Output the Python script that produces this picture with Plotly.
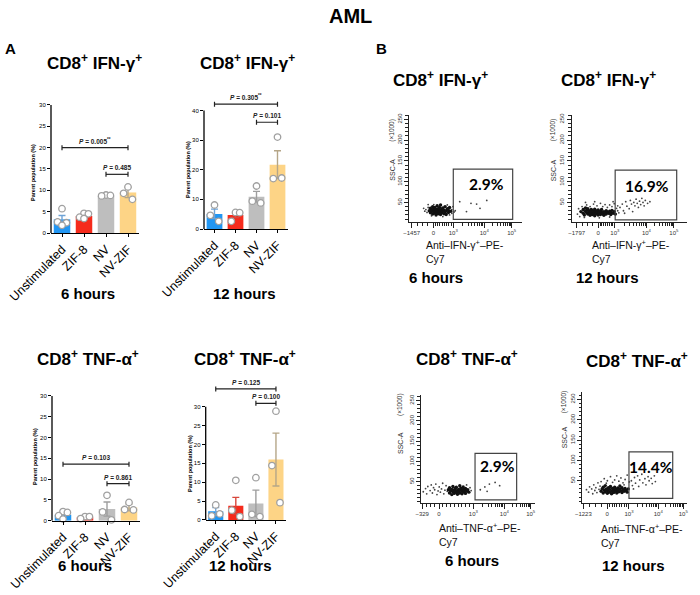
import numpy as np
import plotly.graph_objects as go

W, H = 700, 595
FONT = "Arial, Liberation Sans, sans-serif"

GROUPS = ["Unstimulated", "ZIF-8", "NV", "NV-ZIF"]
BAR_COLORS = ["#2196F3", "#F52B1C", "#BEBEBE", "#FDD486"]
ERR_COLORS = ["#6FA3D6", "#D8473C", "#9E9E9E", "#B5A688"]

# panel A: parent population (%), mean / sem / replicates
ifn_6h_mean = [3.2, 4.0, 8.7, 9.5]
ifn_6h_sem = [0.9, 0.3, 0.15, 1.2]
ifn_6h_pts = [[5.7, 2.6, 2.4, 1.8], [4.6, 3.7, 4.5, 3.4], [8.9, 8.7, 8.8], [10.8, 9.3, 7.9]]
ifn_6h_p = ["0.005<sup>**</sup>", "0.485"]

ifn_12h_mean = [5.1, 4.7, 10.9, 21.7]
ifn_12h_sem = [1.6, 0.8, 1.8, 4.7]
ifn_12h_pts = [[8.1, 4.6, 2.6], [5.6, 2.6, 5.5], [14.5, 9.4, 8.8], [31.0, 17.0, 17.2]]
ifn_12h_p = ["0.305<sup>**</sup>", "0.101"]

tnf_6h_mean = [1.45, 0.8, 2.8, 3.2]
tnf_6h_sem = [0.45, 0.15, 1.7, 0.8]
tnf_6h_pts = [[2.2, 1.2, 2.0, 0.4], [1.0, 0.5, 1.0], [6.1, 2.1, 0.2], [4.4, 2.7, 2.6]]
tnf_6h_p = ["0.103", "0.861"]

tnf_12h_mean = [2.3, 3.8, 4.4, 16.0]
tnf_12h_sem = [1.0, 2.2, 3.5, 7.0]
tnf_12h_pts = [[4.0, 1.1, 1.6], [10.5, 2.6, 0.9], [11.2, 1.5, 0.9], [28.8, 14.4, 4.6]]
tnf_12h_p = ["0.125", "0.100"]

# panel B: flow events (x = display position along biex axis, % of axis; y = SSC-A x1000)
# dense core of each population, then the scattered events
ifn6_core = [(18, 30), (19, 25), (19, 36), (20, 28), (20, 33), (21, 22), (21, 31), (21, 40), (22, 27), (22, 35),
             (23, 24), (23, 30), (23, 38), (24, 20), (24, 28), (24, 33), (25, 26), (25, 31), (25, 42), (26, 23),
             (26, 29), (26, 35), (27, 27), (27, 32), (27, 38), (28, 21), (28, 30), (28, 44), (29, 25), (29, 34),
             (30, 29), (30, 37), (31, 23), (31, 32), (32, 27), (32, 40), (33, 30), (33, 21), (34, 35), (35, 26),
             (35, 31), (36, 38), (37, 29)]
ifn6_sparse = [(17, 38), (16, 26), (15, 33), (38, 33), (36, 20), (34, 44), (22, 45), (20, 18), (30, 16), (39, 40),
               (14, 29), (38, 24), (17, 45), (13, 36), (40, 27),
               (45, 52), (55, 48), (60, 46), (69, 55), (51, 28), (41, 30), (63, 36)]
ifn12_core = [(8, 28), (10, 24), (10, 33), (11, 20), (12, 29), (12, 37), (13, 25), (13, 31), (14, 22), (14, 35),
              (15, 27), (15, 30), (16, 19), (16, 24), (17, 28), (17, 33), (18, 21), (18, 26), (18, 31), (19, 23),
              (19, 29), (20, 18), (20, 27), (20, 34), (21, 22), (21, 30), (22, 25), (22, 28), (23, 20), (23, 32),
              (24, 24), (24, 27), (25, 29), (25, 21), (26, 26), (26, 33), (27, 23), (28, 28), (28, 19), (29, 25),
              (30, 30), (30, 22), (31, 27), (32, 24), (33, 29), (34, 21), (34, 26), (35, 31), (36, 24), (37, 28),
              (38, 22)]
ifn12_sparse = [(6, 35), (9, 40), (13, 44), (16, 40), (19, 46), (22, 42), (25, 48), (27, 40), (29, 45), (31, 38),
                (33, 44), (35, 40), (37, 47), (39, 36), (40, 42), (5, 22), (7, 16), (11, 14), (24, 13), (33, 15),
                (40, 30), (41, 25), (12, 50), (20, 52), (36, 52),
                (42, 38), (44, 46), (45, 30), (47, 52), (48, 41), (50, 35), (51, 55), (52, 46), (54, 50), (55, 42),
                (56, 58), (57, 48), (58, 38), (59, 53), (60, 45), (61, 60), (62, 50), (63, 42), (64, 55), (66, 48),
                (46, 24), (53, 28), (68, 52)]
tnf6_core = [(24, 30), (25, 22), (25, 35), (26, 27), (27, 31), (27, 18), (28, 25), (28, 38), (29, 29), (29, 21),
             (30, 33), (30, 26), (31, 23), (31, 36), (32, 28), (32, 19), (33, 31), (33, 25), (34, 40), (34, 22),
             (35, 29), (35, 34), (36, 26), (36, 20), (37, 31), (37, 37), (38, 24), (38, 28), (39, 33), (39, 21),
             (40, 27), (41, 30), (42, 24)]
tnf6_sparse = [(2, 25), (4, 33), (5, 20), (6, 38), (8, 28), (9, 42), (10, 22), (11, 35), (12, 30), (13, 44),
               (14, 18), (15, 27), (16, 37), (17, 24), (18, 32), (19, 46), (20, 20), (21, 29), (22, 40), (23, 26),
               (40, 42), (43, 35), (44, 28),
               (52, 30), (56, 37), (60, 44), (65, 48), (58, 26), (69, 40)]
tnf12_core = [(18, 24), (19, 30), (20, 20), (20, 34), (21, 27), (22, 23), (22, 38), (23, 30), (24, 19), (24, 26),
              (25, 33), (26, 22), (26, 29), (27, 36), (28, 25), (28, 18), (29, 31), (30, 27), (30, 21), (31, 34),
              (32, 24), (32, 29), (33, 20), (34, 32), (34, 26), (35, 23), (36, 30), (36, 37), (37, 25), (38, 21),
              (38, 33), (39, 28), (40, 24), (41, 31), (42, 26), (43, 22), (44, 30)]
tnf12_sparse = [(4, 28), (6, 22), (7, 35), (9, 30), (10, 18), (11, 40), (12, 26), (13, 33), (14, 21), (15, 45),
                (16, 29), (17, 37),
                (18, 48), (21, 55), (24, 50), (27, 60), (29, 46), (31, 52), (33, 62), (35, 49), (37, 57), (39, 45),
                (41, 53), (43, 64), (45, 47), (23, 44), (40, 40),
                (47, 50), (48, 38), (50, 58), (51, 44), (53, 62), (54, 36), (55, 52), (57, 66), (58, 45), (60, 55),
                (61, 40), (63, 60), (64, 50), (66, 56), (67, 43), (69, 62), (70, 48), (49, 30)]
ifn6_pct, ifn12_pct, tnf6_pct, tnf12_pct = "2.9%", "16.9%", "2.9%", "14.4%"


def fx(px):
    return px / W


def fy(py):
    return 1 - py / H


def ann(text, px, py, size, bold=False, angle=0, xanchor="center", color="black", family=FONT):
    return dict(text=f"<b>{text}</b>" if bold else text, x=fx(px), y=fy(py), xref="paper", yref="paper",
                showarrow=False, xanchor=xanchor, yanchor="middle", textangle=angle, align="left",
                font=dict(family=family, size=size, color=color))


def axn(i):
    return "" if i == 1 else str(i)


fig = go.Figure()
layout = {}
shapes = []
annotations = []

''' panel A: bar charts '''
# (mean, sem, pts, p, x0, x1, y0 px, px per unit, range max, axis top, dtick, bracket y's, ytitle px)
bar_panels = [
    (ifn_6h_mean, ifn_6h_sem, ifn_6h_pts, ifn_6h_p, 51, 139, 233, 4.267, 30, 30, 5, (20, 13.75), (33, 173)),
    (ifn_12h_mean, ifn_12h_sem, ifn_12h_pts, ifn_12h_p, 204, 288, 229, 2.965, 44, 40, 10, (42.1, 36), (188, 170)),
    (tnf_6h_mean, tnf_6h_sem, tnf_6h_pts, tnf_6h_p, 52, 140, 520.7, 4.157, 30, 30, 5, (13.6, 8.9), (35, 457)),
    (tnf_12h_mean, tnf_12h_sem, tnf_12h_pts, tnf_12h_p, 205.7, 286, 520, 3.777, 36, 30, 5, (34.7, 30.9), (190, 463)),
]
jitter = {3: [0, -0.2, 0.2], 4: [0, -0.2, 0.2, 0]}

for i, (mean, sem, pts, pv, x0, x1, y0, pxu, rmax, atop, dt, brk, yt) in enumerate(bar_panels, start=1):
    n = axn(i)
    xa, ya = "x" + n, "y" + n
    layout["xaxis" + n] = dict(domain=[fx(x0), fx(x1)], anchor=ya, range=[-0.5, 3.5], tickvals=[0, 1, 2, 3],
                               ticktext=GROUPS, tickangle=-45, showline=True, linecolor="black", linewidth=1.3,
                               ticks="outside", ticklen=3, tickcolor="black", showgrid=False, zeroline=False,
                               automargin=False, tickfont=dict(family=FONT, size=12.5, color="black"))
    layout["yaxis" + n] = dict(domain=[fy(y0), fy(y0 - rmax * pxu)], anchor=xa, range=[0, rmax],
                               tickvals=list(range(0, atop + 1, dt)), ticks="outside", ticklen=3, tickwidth=1,
                               tickcolor="black", showline=False, showgrid=False, zeroline=False, automargin=False,
                               tickfont=dict(family=FONT, size=6, color="black"))
    shapes.append(dict(type="line", xref=xa + " domain", yref=ya, x0=0, x1=0, y0=0, y1=atop,
                       line=dict(color="black", width=1.3)))
    for j in range(4):
        fig.add_trace(go.Bar(x=[j], y=[mean[j]], width=0.75, marker=dict(color=BAR_COLORS[j], line_width=0),
                             error_y=dict(type="data", array=[sem[j]], color=ERR_COLORS[j], thickness=1.4, width=3.5),
                             xaxis=xa, yaxis=ya))
        off = jitter[len(pts[j])]
        fig.add_trace(go.Scatter(x=[j + o for o in off], y=pts[j], mode="markers", cliponaxis=False,
                                 marker=dict(size=6.5, color="white", line=dict(color="#A0A0A0", width=1.3)),
                                 xaxis=xa, yaxis=ya))
    # significance brackets
    cap = 2.5 / pxu
    for (bx0, bx1), by, txt in zip([(0, 3), (2, 3)], brk, pv):
        shapes.append(dict(type="line", xref=xa, yref=ya, x0=bx0, x1=bx1, y0=by, y1=by,
                           line=dict(color="#222", width=1.2)))
        for bx in (bx0, bx1):
            shapes.append(dict(type="line", xref=xa, yref=ya, x0=bx, x1=bx, y0=by - cap, y1=by + cap,
                               line=dict(color="#222", width=1.2)))
        annotations.append(dict(text=f"<b><i>P</i> = {txt}</b>", x=(bx0 + bx1) / 2, y=by, xref=xa, yref=ya,
                                showarrow=False, yanchor="bottom", yshift=1,
                                font=dict(family=FONT, size=6.5, color="#222")))
    annotations.append(ann("Parent population (%)", yt[0], yt[1], 5.5, bold=True, angle=-90))

''' panel B: flow cytometry dot plots '''
# (core, sparse, pct, x0, x1, ybottom, ytop, yrange, xticks, neg label, gate x, gate y, pct px, xlabel, ylabel px)
flow_panels = [
    (ifn6_core, ifn6_sparse, ifn6_pct, 409, 521.7, 221.7, 115, [3.7, 260.5], [2.4, 21.6, 39.3, 66.8, 91.1],
     "−1457", [39.3, 92.0], [9.5, 130], (486.7, 184.3), "IFN-γ", (424, 244), (391.7, 170, 130)),
    (ifn12_core, ifn12_sparse, ifn12_pct, 571.7, 686.7, 221.7, 115, [3.7, 260.5], [4.3, 23.0, 37.5, 65.0, 88.8],
     "−1797", [37.8, 91.3], [8, 128], (647.3, 186), "IFN-γ", (590, 244), (553.3, 170, 130)),
    (tnf6_core, tnf6_sparse, tnf6_pct, 421, 535, 502.7, 395, [-2, 264], [1, 15.8, 45.9, 73.1, 96.2],
     "−329", [47.4, 83.9], [4.8, 120], (497.7, 466), "TNF-α", (436.7, 527), (400, 443, 405)),
    (tnf12_core, tnf12_sparse, tnf12_pct, 582.3, 686.7, 502.7, 391.7, [-4, 269], [1, 23.9, 44.7, 72.8, 96.7],
     "−1223", [44.7, 86.6], [6.8, 121], (651, 466.7), "TNF-α", (599, 528.3), (564.3, 437, 402)),
]

for k, (core, sparse, pct, x0, x1, yb, yt_, yr, xt, neg, gx, gy, ppos, marker_name, xl, yl) in enumerate(
        flow_panels, start=5):
    n = axn(k)
    xa, ya = "x" + n, "y" + n
    neg_t, z, d3, d4, d5 = xt
    minor_x = (list(np.linspace(neg_t, z, 5)[1:-1]) + list(np.linspace(z, d3, 10)[1:-1])
               + [d3 + (d4 - d3) * np.log10(m) for m in range(2, 10)]
               + [d4 + (d5 - d4) * np.log10(m) for m in range(2, 10)])
    tickfont = dict(family=FONT, size=6, color="#333")
    layout["xaxis" + n] = dict(domain=[fx(x0), fx(x1)], anchor=ya, range=[0, 100], tickvals=xt,
                               ticktext=[neg, "0", "10<sup>3</sup>", "10<sup>4</sup>", "10<sup>5</sup>"],
                               ticks="outside", ticklen=5, tickwidth=1.2, tickcolor="#222", showline=True,
                               linecolor="#222", linewidth=1.2, showgrid=False, zeroline=False, tickfont=tickfont,
                               automargin=False,
                               minor=dict(tickmode="array", tickvals=minor_x, ticks="outside", ticklen=3,
                                          tickcolor="#222", tickwidth=1))
    layout["yaxis" + n] = dict(domain=[fy(yb), fy(yt_)], anchor=xa, range=yr, tickvals=[50, 100, 150, 200, 250],
                               tickangle=-90, ticks="outside", ticklen=4, tickwidth=1.2, tickcolor="#222",
                               showline=True, linecolor="#222", linewidth=1.2, showgrid=False, zeroline=False,
                               tickfont=tickfont, automargin=False,
                               minor=dict(dtick=10, tick0=0, ticks="outside", ticklen=2.5, tickcolor="#222",
                                          tickwidth=1))
    sx, sy = zip(*sparse)
    fig.add_trace(go.Scatter(x=sx, y=sy, mode="markers", marker=dict(size=1.8, color="#444"),
                             xaxis=xa, yaxis=ya))
    cx, cy = zip(*core)
    fig.add_trace(go.Scatter(x=cx, y=cy, mode="markers", marker=dict(size=3.4, color="#111"),
                             xaxis=xa, yaxis=ya))
    shapes.append(dict(type="rect", xref=xa, yref=ya, x0=gx[0], x1=gx[1], y0=gy[0], y1=gy[1],
                       line=dict(color="#444", width=1.2)))
    annotations.append(ann(pct, ppos[0], ppos[1], 15.5, bold=True, family="Lato, Open Sans, sans-serif"))
    annotations.append(ann(f"Anti–{marker_name}<sup>+</sup>–PE-<br>Cy7", xl[0], xl[1] + 7, 10.5,
                           xanchor="left", color="#111"))
    annotations.append(ann("SSC-A", yl[0], yl[1], 7, angle=-90, color="#333"))
    annotations.append(ann("(×1000)", yl[0], yl[2], 6.5, angle=-90, color="#333"))

''' titles and labels '''
IFN = "CD8<sup>+</sup> IFN-γ<sup>+</sup>"
TNF = "CD8<sup>+</sup> TNF-α<sup>+</sup>"
texts = [
    ("AML", 350, 16, 20), ("A", 10, 48, 15), ("B", 381, 48, 15),
    (IFN, 94, 62, 17), (IFN, 247, 62, 17), (TNF, 88, 358, 17), (TNF, 245, 358, 17),
    (IFN, 440, 79, 17), (IFN, 608, 79, 17), (TNF, 467, 358, 17), (TNF, 637, 360, 17),
    ("6 hours", 88, 293, 15), ("12 hours", 244, 293, 15), ("6 hours", 85, 565, 15), ("12 hours", 240, 565, 15),
    ("6 hours", 436, 277, 15), ("12 hours", 607, 277, 15), ("6 hours", 472, 560, 15), ("12 hours", 633, 565, 15),
]
for t, px, py, s in texts:
    annotations.append(ann(t, px, py, s, bold=True))

fig.update_layout(width=W, height=H, margin=dict(l=0, r=0, t=0, b=0), paper_bgcolor="white",
                  plot_bgcolor="rgba(0,0,0,0)", showlegend=False, barmode="overlay",
                  shapes=shapes, annotations=annotations, font=dict(family=FONT), **layout)
fig.write_html("out.html", config={"displayModeBar": False},
               post_script="document.body.style.margin = '0';")
